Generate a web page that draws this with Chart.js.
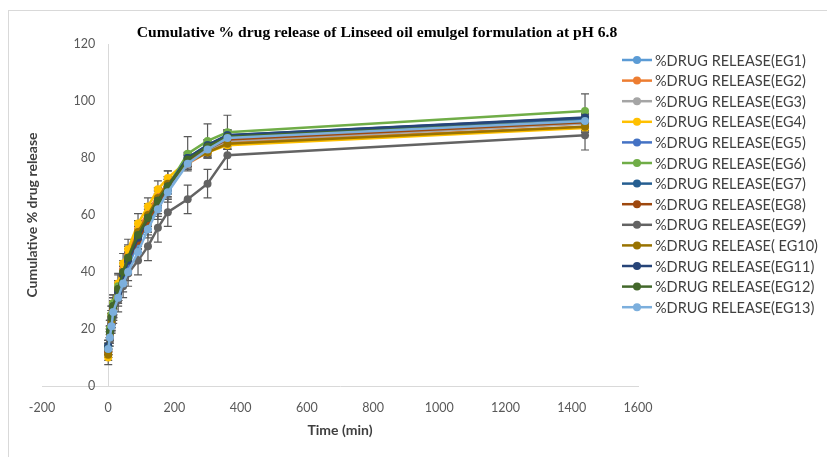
<!DOCTYPE html>
<html>
<head>
<meta charset="utf-8">
<script src="https://cdn.jsdelivr.net/npm/chart.js@4.4.1/dist/chart.umd.min.js"></script>
<style>
  html, body { margin: 0; padding: 0; background: #fff; }
  #wrap { position: relative; width: 827px; height: 457px; overflow: hidden; }
  #frame { position: absolute; left: 8px; top: 10px; width: 840px; height: 470px; border: 1px solid #d9d9d9; pointer-events: none; }
  canvas { position: absolute; left: 0; top: 0; }
</style>
</head>
<body>
<div id="wrap">
  <canvas id="chart" width="827" height="457"></canvas>
  <div id="frame"></div>
</div>
<script>
// time points (min)
const TIME = [0, 5, 10, 15, 30, 45, 60, 90, 120, 150, 180, 240, 300, 360, 1440];

const LABELS = [
  "%DRUG RELEASE(EG1)", "%DRUG RELEASE(EG2)", "%DRUG RELEASE(EG3)", "%DRUG RELEASE(EG4)",
  "%DRUG RELEASE(EG5)", "%DRUG RELEASE(EG6)", "%DRUG RELEASE(EG7)", "%DRUG RELEASE(EG8)",
  "%DRUG RELEASE(EG9)", "%DRUG RELEASE( EG10)", "%DRUG RELEASE(EG11)", "%DRUG RELEASE(EG12)",
  "%DRUG RELEASE(EG13)"
];

const COLORS = [
  "#5B9BD5", "#ED7D31", "#A5A5A5", "#FFC000", "#4472C4", "#70AD47", "#255E91",
  "#9E480E", "#636363", "#997300", "#264478", "#43682B", "#7CAFDD"
];

// cumulative % drug release
const EG1  = [13, 18, 22, 26, 32, 38, 42, 50, 57, 63, 69, 79, 83.5, 87.5, 93.5];
const EG2  = [12, 19, 24, 28, 34, 41, 46, 55, 61, 67, 71, 78, 82, 85.5, 91];
const EG3  = [12, 18, 23, 27, 33, 40, 45, 53, 60, 66, 71, 79, 82.5, 86, 92];
const EG4  = [10, 20, 25, 29, 36, 43, 48, 57, 63, 69, 73, 79, 82, 84.5, 90.5];
const EG5  = [13, 18, 23, 27, 33, 39, 43, 51, 58, 64, 70, 79.5, 84, 87.5, 93.8];
const EG6  = [14, 20, 25, 29, 35, 39, 45, 53, 58, 64, 70, 81.5, 86, 89, 96.5];
const EG7  = [14, 19, 23, 27, 33, 39, 44, 52, 59, 64, 70, 80, 84.5, 88, 94];
const EG8  = [12, 17, 22, 27, 33, 39, 44, 51, 58, 64, 70, 79, 83, 86.5, 92.5];
const EG9  = [13, 16, 22, 25, 30, 35, 39.5, 44, 49, 55.5, 61, 65.5, 71, 81, 88];
const EG10 = [11, 18, 23, 27, 34, 40, 45, 54, 60, 66, 71, 78.5, 82, 85, 91];
const EG11 = [14, 19, 24, 28, 33, 39, 44, 52, 59, 65, 70, 80, 84.5, 88, 94.2];
const EG12 = [13, 19, 24, 28, 34, 40, 45, 53, 59, 65, 70, 79.5, 84, 87.5, 93];
const EG13 = [13, 17, 21, 26, 31, 36, 40, 47, 55, 62, 68, 78, 83, 87, 93];

// standard deviations (error bars)
const SD1  = [2, 2, 2.5, 3, 3, 3, 3, 3, 3, 2.5, 2.5, 2, 2, 2, 1.5];
const SD2  = [2, 2, 2.5, 3, 3, 3, 3, 3, 3, 2.5, 2.5, 2, 2, 2, 1.5];
const SD3  = [2, 2, 2.5, 2.5, 3, 3, 3, 3, 3, 2.5, 2.5, 2, 2, 2, 1.5];
const SD4  = [2.5, 3, 3, 3, 3.5, 3.5, 3.5, 3.5, 3, 3, 2.5, 2, 2, 1.5, 1.5];
const SD5  = [2, 2, 2.5, 3, 3, 3, 3, 3, 3, 2.5, 2.5, 2, 2, 2, 1.5];
const SD6  = [2, 3, 3, 3, 4, 4, 4.5, 5, 5, 5.5, 5.5, 6, 6, 6, 6];
const SD7  = [2, 2, 2.5, 3, 3, 3, 3, 3, 3, 2.5, 2.5, 2, 2, 2, 1.5];
const SD8  = [2, 2, 2.5, 3, 3, 3, 3, 3, 3, 2.5, 2.5, 2, 2, 2, 1.5];
const SD9  = [2, 2, 3, 3, 4, 4, 4.5, 5, 5, 5, 5, 5, 5, 5, 5.2];
const SD10 = [2, 2, 2.5, 3, 3, 3, 3, 3, 3, 2.5, 2.5, 2, 2, 2, 1.5];
const SD11 = [2, 2, 2.5, 3, 3, 3, 3, 3, 3, 2.5, 2.5, 2, 2, 2, 1.5];
const SD12 = [2, 2, 2.5, 3, 3, 3, 3, 3, 3, 2.5, 2.5, 2, 2, 2, 1.5];
const SD13 = [2, 2, 2.5, 3, 3, 3, 3, 3, 3, 2.5, 2.5, 2, 2, 2, 1.5];

const X_TICKS = [-200, 0, 200, 400, 600, 800, 1000, 1200, 1400, 1600];
const Y_TICKS = [0, 20, 40, 60, 80, 100, 120];

const SERIES = [EG1, EG2, EG3, EG4, EG5, EG6, EG7, EG8, EG9, EG10, EG11, EG12, EG13];
const ERRORS = [SD1, SD2, SD3, SD4, SD5, SD6, SD7, SD8, SD9, SD10, SD11, SD12, SD13];

const TITLE = "Cumulative % drug release of Linseed oil emulgel formulation at pH 6.8";
const X_TITLE = "Time (min)";
const Y_TITLE = "Cumulative % drug release";

const datasets = SERIES.map((vals, i) => ({
  label: LABELS[i],
  data: vals.map((v, j) => ({ x: TIME[j], y: v })),
  borderColor: COLORS[i],
  backgroundColor: COLORS[i],
  borderWidth: 2.5,
  pointRadius: 4,
  pointBorderWidth: 0,
  order: SERIES.length - i, // last series drawn on top, like Excel
  errors: ERRORS[i]
}));

// error bars, titles, y tick labels and legend
const decor = {
  id: "decor",
  beforeDatasetsDraw(chart) {
    const ctx = chart.ctx;
    const xs = chart.scales.x, ys = chart.scales.y;
    ctx.save();
    ctx.strokeStyle = "#595959";
    ctx.lineWidth = 1.2;
    chart.data.datasets.forEach(ds => {
      ds.data.forEach((p, j) => {
        const e = ds.errors[j];
        const x = xs.getPixelForValue(p.x);
        const y1 = ys.getPixelForValue(p.y + e);
        const y2 = ys.getPixelForValue(p.y - e);
        ctx.beginPath();
        ctx.moveTo(x, y1); ctx.lineTo(x, y2);
        ctx.moveTo(x - 4, y1); ctx.lineTo(x + 4, y1);
        ctx.moveTo(x - 4, y2); ctx.lineTo(x + 4, y2);
        ctx.stroke();
      });
    });
    ctx.restore();
  },
  afterDraw(chart) {
    const ctx = chart.ctx;
    const area = chart.chartArea;
    const xs = chart.scales.x, ys = chart.scales.y;
    ctx.save();
    // chart title
    ctx.fillStyle = "#000";
    ctx.font = "bold 15.6px 'Liberation Serif'";
    ctx.textAlign = "center";
    ctx.textBaseline = "middle";
    ctx.fillText(TITLE, 377, 33);
    // x axis title
    ctx.font = "bold 14px Lato";
    ctx.fillStyle = "#404040";
    ctx.fillText(X_TITLE, (area.left + area.right) / 2, 430);
    // y tick labels, beside the axis drawn at x = 0
    const x0 = xs.getPixelForValue(0);
    ctx.font = "12.5px Lato";
    ctx.fillStyle = "#595959";
    ctx.textAlign = "right";
    ys.ticks.forEach(t => ctx.fillText(String(t.value), x0 - 13, ys.getPixelForValue(t.value)));
    // y axis title
    ctx.save();
    ctx.translate(32, (area.top + area.bottom) / 2);
    ctx.rotate(-Math.PI / 2);
    ctx.textAlign = "center";
    ctx.font = "bold 14px Lato";
    ctx.fillStyle = "#404040";
    ctx.fillText(Y_TITLE, 0, 0);
    ctx.restore();
    // legend
    ctx.font = "14.5px Lato";
    ctx.textAlign = "left";
    chart.data.datasets.forEach((ds, i) => {
      const y = 60 + i * 20.6;
      ctx.strokeStyle = ds.borderColor;
      ctx.lineWidth = 2.5;
      ctx.beginPath();
      ctx.moveTo(622, y); ctx.lineTo(652, y);
      ctx.stroke();
      ctx.fillStyle = ds.borderColor;
      ctx.beginPath();
      ctx.arc(637, y, 4, 0, Math.PI * 2);
      ctx.fill();
      ctx.fillStyle = "#404040";
      ctx.fillText(ds.label, 655, y + 1);
    });
    ctx.restore();
  }
};

new Chart(document.getElementById("chart"), {
  type: "line",
  data: { datasets },
  plugins: [decor],
  options: {
    responsive: false,
    animation: false,
    layout: { padding: { left: 42, right: 189, top: 44, bottom: 0 } },
    plugins: { legend: { display: false }, title: { display: false }, tooltip: { enabled: false } },
    scales: {
      x: {
        type: "linear",
        min: -200,
        max: 1600,
        afterBuildTicks: s => { s.ticks = X_TICKS.map(v => ({ value: v })); },
        afterFit: s => { s.height = 71; },
        grid: { display: false, drawTicks: false, tickLength: 0 },
        border: { display: true, color: "#d9d9d9", width: 1 },
        ticks: {
          color: "#595959", font: { family: "Lato", size: 12.5 }, padding: 14, maxRotation: 0,
          callback: v => String(v)
        }
      },
      y: {
        type: "linear",
        position: { x: 0 },
        min: 0,
        max: 120,
        afterBuildTicks: s => { s.ticks = Y_TICKS.map(v => ({ value: v })); },
        grid: { display: false, drawTicks: false, tickLength: 0 },
        border: { display: true, color: "#d9d9d9", width: 1 },
        ticks: { display: false }
      }
    }
  }
});
</script>
</body>
</html>
